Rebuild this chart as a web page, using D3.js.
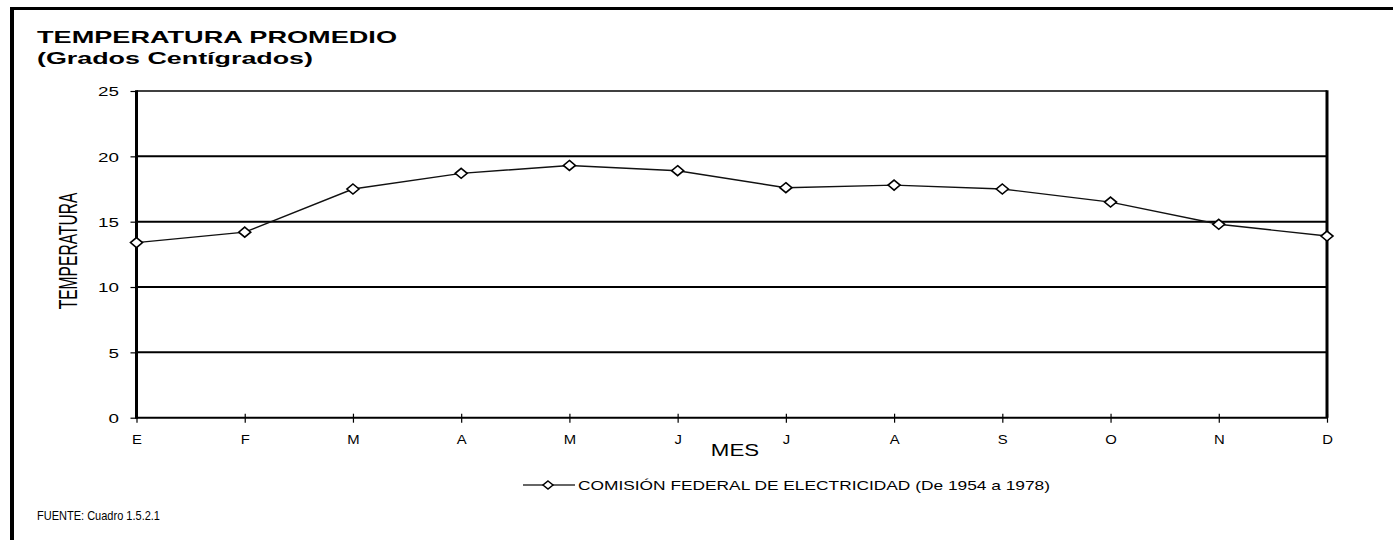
<!DOCTYPE html>
<html>
<head>
<meta charset="utf-8">
<script src="https://cdn.jsdelivr.net/npm/d3@7"></script>
<style>
  html, body { margin: 0; padding: 0; background: #fff; }
  svg { display: block; font-family: "Liberation Sans", Arial, sans-serif; }
</style>
</head>
<body>
<svg id="chart" width="1393" height="540"></svg>
<script>
// Monthly mean temperature (°C)
const months = ["E", "F", "M", "A", "M", "J", "J", "A", "S", "O", "N", "D"];
const temperatures = [13.4, 14.2, 17.5, 18.7, 19.3, 18.9, 17.6, 17.8, 17.5, 16.5, 14.8, 13.9];
const yTicks = [0, 5, 10, 15, 20, 25];
const seriesName = "COMISIÓN FEDERAL DE ELECTRICIDAD  (De 1954 a 1978)";
const titleLines = ["TEMPERATURA PROMEDIO", "(Grados Centígrados)"];
const yTitle = "TEMPERATURA";
const xTitle = "MES";
const sourceNote = "FUENTE: Cuadro 1.5.2.1";

const svg = d3.select("#chart");
const plot = { left: 136.5, right: 1327, top: 91, bottom: 417.7 };

const x = d3.scalePoint()
  .domain(d3.range(months.length))
  .range([plot.left, plot.right]);
const y = d3.scaleLinear()
  .domain([0, 25])
  .range([plot.bottom, plot.top]);

// Page frame (top and left rules)
svg.append("line").attr("x1", 10).attr("x2", 1393).attr("y1", 8.5).attr("y2", 8.5)
  .attr("stroke", "#000").attr("stroke-width", 3);
svg.append("line").attr("x1", 12).attr("x2", 12).attr("y1", 7).attr("y2", 540)
  .attr("stroke", "#000").attr("stroke-width", 4);

// Titles
svg.append("text").attr("x", 37).attr("y", 43)
  .attr("font-size", 16.5).attr("font-weight", "bold")
  .attr("textLength", 360).attr("lengthAdjust", "spacingAndGlyphs")
  .text(titleLines[0]);
svg.append("text").attr("x", 37).attr("y", 64)
  .attr("font-size", 16.5).attr("font-weight", "bold")
  .attr("textLength", 276).attr("lengthAdjust", "spacingAndGlyphs")
  .text(titleLines[1]);

// Horizontal gridlines
svg.append("g").selectAll("line")
  .data(yTicks.filter(d => d > 0 && d < 25))
  .join("line")
  .attr("x1", plot.left).attr("x2", plot.right)
  .attr("y1", d => y(d)).attr("y2", d => y(d))
  .attr("stroke", "#000").attr("stroke-width", 2);

// Plot frame
svg.append("line").attr("x1", plot.left).attr("x2", plot.right)
  .attr("y1", y(25)).attr("y2", y(25)).attr("stroke", "#000").attr("stroke-width", 1.5);
svg.append("line").attr("x1", plot.right).attr("x2", plot.right)
  .attr("y1", y(25) - 0.75).attr("y2", y(0)).attr("stroke", "#000").attr("stroke-width", 3);

// Y axis
const yAxis = svg.append("g")
  .attr("transform", `translate(${plot.left},0)`)
  .call(d3.axisLeft(y).tickValues(yTicks).tickSize(6).tickPadding(0).tickFormat(d3.format("d")));
yAxis.select(".domain").attr("stroke", "#000").attr("stroke-width", 3).attr("d", `M0,${y(25) - 0.75}V${y(0) + 1}`);
yAxis.selectAll(".tick line").attr("stroke", "#000").attr("stroke-width", 1.2);
yAxis.selectAll(".tick text")
  .attr("font-size", 13).attr("fill", "#000")
  .attr("font-family", "'Liberation Sans', Arial, sans-serif")
  .attr("x", 0).attr("dy", "0.36em")
  .attr("transform", "translate(-17.5,0) scale(1.45,1)")
  .attr("text-anchor", "end");

// X axis
const xAxis = svg.append("g")
  .attr("transform", `translate(0,${plot.bottom})`)
  .call(d3.axisBottom(x).tickSizeInner(0).tickSizeOuter(0).tickFormat(i => months[i]));
xAxis.select(".domain").attr("stroke", "#000").attr("stroke-width", 2)
  .attr("d", `M${plot.left},0H${plot.right}`);
xAxis.selectAll(".tick line").attr("stroke", "#000").attr("stroke-width", 1.2)
  .attr("y1", -4).attr("y2", 5);
xAxis.selectAll(".tick text")
  .attr("font-size", 13.5).attr("fill", "#000")
  .attr("font-family", "'Liberation Sans', Arial, sans-serif")
  .attr("y", 0).attr("dy", 0)
  .attr("transform", "translate(0,26) scale(1.1,1)")
  .attr("text-anchor", "middle");

// Axis titles
svg.append("text")
  .attr("transform", "translate(735,456) scale(1.35,1)")
  .attr("font-size", 16.5).attr("text-anchor", "middle")
  .text(xTitle);
svg.append("text")
  .attr("transform", "translate(77,251) scale(1.7,1) rotate(-90)")
  .attr("font-size", 15.6).attr("text-anchor", "middle")
  .text(yTitle);

// Data line
const line = d3.line().x((d, i) => x(i)).y(d => y(d));
svg.append("path")
  .datum(temperatures)
  .attr("d", line)
  .attr("fill", "none").attr("stroke", "#111").attr("stroke-width", 1.4);

// Diamond markers
const diamond = (hw, hh) => `M0,${-hh}L${hw},0L0,${hh}L${-hw},0Z`;
svg.append("g").selectAll("path")
  .data(temperatures)
  .join("path")
  .attr("transform", (d, i) => `translate(${x(i)},${y(d)})`)
  .attr("d", diamond(6, 5))
  .attr("fill", "#fff").attr("stroke", "#000").attr("stroke-width", 1.6);

// Legend
const lg = svg.append("g").attr("transform", "translate(0,485)");
lg.append("line").attr("x1", 523).attr("x2", 575).attr("y1", 0).attr("y2", 0)
  .attr("stroke", "#333").attr("stroke-width", 1.4);
lg.append("path").attr("transform", "translate(548,0)").attr("d", diamond(5, 4))
  .attr("fill", "#fff").attr("stroke", "#000").attr("stroke-width", 1.5);
lg.append("text").attr("x", 578).attr("y", 5)
  .attr("font-size", 13.5)
  .attr("textLength", 472).attr("lengthAdjust", "spacingAndGlyphs")
  .text(seriesName);

// Source note
svg.append("text").attr("x", 37).attr("y", 520)
  .attr("font-size", 13)
  .attr("textLength", 123).attr("lengthAdjust", "spacingAndGlyphs")
  .text(sourceNote);
</script>
</body>
</html>
